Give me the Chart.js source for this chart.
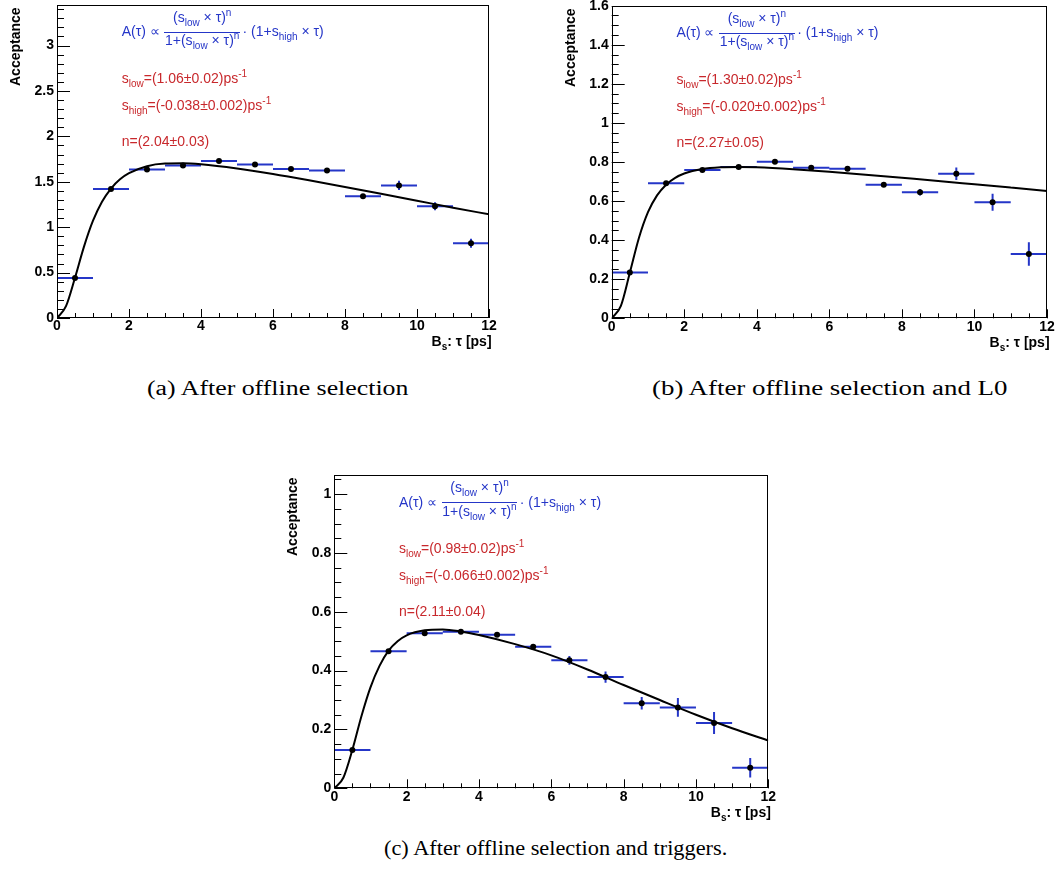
<!DOCTYPE html>
<html><head><meta charset="utf-8">
<script src="https://cdn.jsdelivr.net/npm/chart.js@4.4.0/dist/chart.umd.min.js"></script>
<style>
html,body{margin:0;padding:0;background:#fff;}
#page{position:relative;width:1055px;height:876px;overflow:hidden;font-family:'Liberation Sans',Arial,Helvetica,sans-serif;}
.cv{position:absolute;}
.t{position:absolute;white-space:nowrap;line-height:1;font-size:14px;}
.blue{color:#2536c8;}
.red{color:#c8282c;}
.sub{font-size:10px;position:relative;top:4px;line-height:0;}
.sup{font-size:10px;position:relative;top:-6px;line-height:0;}
.bold{font-weight:bold;color:#000;}
.probe{display:inline-block;width:0;height:0;vertical-align:baseline;}
.cap{font-family:'Liberation Serif','Times New Roman',serif;font-size:20px;color:#000;transform-origin:0 0;}
.fbar{position:absolute;height:1px;background:#2536c8;}
</style>
</head><body>
<div id="page">
  <canvas id="ca" class="cv" width="510" height="352" style="left:0px;top:0px;"></canvas>
  <canvas id="cb" class="cv" width="500" height="352" style="left:555px;top:0px;"></canvas>
  <canvas id="cc" class="cv" width="510" height="352" style="left:278px;top:470px;"></canvas>
</div>
<script>
// ---------------- data ----------------
const binEdges = [0,1,2,3,4,5,6,7,8,9,10,11,12];

const accA = [0.44, 1.42, 1.635, 1.68, 1.73, 1.69, 1.64, 1.625, 1.34, 1.46, 1.23, 0.823];
const errA = [0.01, 0.01, 0.01, 0.01, 0.01, 0.01, 0.017, 0.017, 0.02, 0.05, 0.044, 0.05];

const accB = [0.235, 0.691, 0.759, 0.774, 0.801, 0.771, 0.766, 0.684, 0.645, 0.740, 0.594, 0.329];
const errB = [0.005, 0.005, 0.005, 0.005, 0.006, 0.006, 0.008, 0.01, 0.017, 0.032, 0.044, 0.06];

const accC = [0.130, 0.466, 0.527, 0.532, 0.522, 0.481, 0.435, 0.378, 0.289, 0.275, 0.222, 0.070];
const errC = [0.004, 0.004, 0.004, 0.004, 0.005, 0.006, 0.015, 0.019, 0.0215, 0.032, 0.037, 0.033];

const fitTau = [0, 0.25, 0.5, 0.75, 1, 1.25, 1.5, 1.75, 2, 2.5, 3, 3.5, 4, 5, 6, 7, 8, 9, 10, 11, 12];
const fitA = [0, 0.13, 0.443, 0.786, 1.071, 1.28, 1.426, 1.527, 1.595, 1.672, 1.70, 1.703, 1.692, 1.646, 1.585, 1.516, 1.443, 1.368, 1.292, 1.214, 1.142];
const fitB = [0, 0.062, 0.233, 0.411, 0.543, 0.629, 0.684, 0.719, 0.741, 0.764, 0.773, 0.775, 0.773, 0.763, 0.7495, 0.735, 0.719, 0.703, 0.686, 0.669, 0.652];
const fitC = [0, 0.036, 0.131, 0.245, 0.343, 0.416, 0.468, 0.5, 0.52, 0.537, 0.54, 0.533, 0.521, 0.49, 0.452, 0.404, 0.351, 0.3, 0.25, 0.204, 0.162];

const sLow  = ['1.06±0.02', '1.30±0.02', '0.98±0.02'];
const sHigh = ['-0.038±0.002', '-0.020±0.002', '-0.066±0.002'];
const nPow  = ['2.04±0.03', '2.27±0.05', '2.11±0.04'];
const captions = ['(a) After offline selection', '(b) After offline selection and L0', '(c) After offline selection and triggers.'];
const yTitle = 'Acceptance';
const xTitleHTML = 'B<span class="sub">s</span>: τ [ps]';

// ---------------- layout ----------------
const panels = [
  {id:'ca', cl:0,   ct:0,   cw:510, ch:352, L:57,    R:489,   T:4.7, B:318,   ymax:3.45,  ystep:0.5, yminor:0.1,  acc:accA, err:errA, fit:fitA, cap:{x:147,w:261,base:395}},
  {id:'cb', cl:555, ct:0,   cw:500, ch:352, L:611.7, R:1047,  T:5.7, B:318.3, ymax:1.6,   ystep:0.2, yminor:0.05, acc:accB, err:errB, fit:fitB, cap:{x:652,w:356,base:395}},
  {id:'cc', cl:278, ct:470, cw:510, ch:352, L:334.3, R:768.3, T:475, B:788.3, ymax:1.065, ystep:0.2, yminor:0.05, acc:accC, err:errC, fit:fitC, cap:{x:384,w:343,base:855}}
];

const FONT = "'Liberation Sans', Arial, Helvetica, sans-serif";
const BLUE = '#2536c8';
Chart.defaults.font.family = FONT;
Chart.defaults.font.size = 14;
Chart.defaults.font.weight = 'bold';
Chart.defaults.color = '#000';

const rootAxes = {
  id: 'rootAxes',
  afterDraw(chart, args, o) {
    const {ctx, chartArea: a, scales: {x, y}} = chart;
    ctx.save();
    ctx.strokeStyle = '#000';
    ctx.lineWidth = 1;
    ctx.beginPath();
    for (let i = 0; ; i++) {
      const v = x.min + i * o.xMinor;
      if (v > x.max + 1e-9) break;
      const major = Math.abs(v / o.xMajor - Math.round(v / o.xMajor)) < 1e-6;
      const px = Math.round(x.getPixelForValue(v)) + 0.5;
      ctx.moveTo(px, a.bottom);
      ctx.lineTo(px, a.bottom - (major ? 9 : 5));
    }
    for (let i = 0; ; i++) {
      const v = y.min + i * o.yMinor;
      if (v > y.max + 1e-9) break;
      const major = Math.abs(v / o.yMajor - Math.round(v / o.yMajor)) < 1e-6;
      const py = Math.round(y.getPixelForValue(v)) + 0.5;
      ctx.moveTo(a.left, py);
      ctx.lineTo(a.left + (major ? 13 : 7), py);
    }
    ctx.stroke();
    const l = Math.round(a.left) + 0.5, t = Math.round(a.top) + 0.5;
    const r = Math.round(a.right) - 0.5, b = Math.round(a.bottom) - 0.5;
    ctx.strokeRect(l, t, r - l, b - t);
    ctx.restore();
  }
};

function zeroPad(s) { s.paddingLeft = 0; s.paddingRight = 0; s.paddingTop = 0; s.paddingBottom = 0; }

function buildChart(p) {
  const centers = p.acc.map((v, i) => (binEdges[i] + binEdges[i + 1]) / 2);
  const bars = [];
  p.acc.forEach((v, i) => {
    bars.push({x: binEdges[i], y: v}, {x: binEdges[i + 1], y: v}, {x: centers[i], y: null});
  });
  p.acc.forEach((v, i) => {
    bars.push({x: centers[i], y: v - p.err[i]}, {x: centers[i], y: v + p.err[i]}, {x: centers[i], y: null});
  });
  const pts = p.acc.map((v, i) => ({x: centers[i], y: v}));
  const curve = fitTau.map((t, i) => ({x: t, y: p.fit[i]}));
  const xH = p.ch - (p.B - p.ct);
  const yW = p.L - p.cl;
  const tickFont = {family: FONT, size: 14, weight: 'bold'};
  new Chart(document.getElementById(p.id), {
    type: 'scatter',
    data: {
      datasets: [
        {data: pts, showLine: false, pointRadius: 3, pointBackgroundColor: '#000', pointBorderWidth: 0, order: 0},
        {data: curve, showLine: true, borderColor: '#000', borderWidth: 2, pointRadius: 0, cubicInterpolationMode: 'monotone', fill: false, order: 1},
        {data: bars, showLine: true, spanGaps: false, borderColor: BLUE, borderWidth: 2, pointRadius: 0, borderCapStyle: 'butt', fill: false, order: 2}
      ]
    },
    options: {
      responsive: false, animation: false, devicePixelRatio: 1,
      events: [],
      font: tickFont,
      layout: {padding: {left: 0, top: p.T - p.ct, right: p.cw - (p.R - p.cl), bottom: 0}},
      plugins: {legend: {display: false}, tooltip: {enabled: false}, rootAxes: {xMajor: 2, xMinor: 0.5, yMajor: p.ystep, yMinor: p.yminor}},
      scales: {
        x: {
          type: 'linear', min: 0, max: 12,
          grid: {display: false, drawTicks: false, tickLength: 0},
          border: {display: false},
          ticks: {stepSize: 2, includeBounds: false, autoSkip: false, maxRotation: 0, padding: 0, color: '#000',
                  font: tickFont, callback: v => String(Math.round(v * 100) / 100)},
          afterFit: s => { s.height = xH; zeroPad(s); }
        },
        y: {
          type: 'linear', min: 0, max: p.ymax,
          grid: {display: false, drawTicks: false, tickLength: 0},
          border: {display: false},
          ticks: {stepSize: p.ystep, includeBounds: false, autoSkip: false, padding: 3, color: '#000',
                  font: tickFont, callback: v => String(Math.round(v * 100) / 100)},
          afterFit: s => { s.width = yW; zeroPad(s); }
        }
      }
    },
    plugins: [rootAxes]
  });
}

const page = document.getElementById('page');
function place(html, cls, x, baseline, alignRight) {
  const d = document.createElement('div');
  d.className = 't ' + cls;
  d.innerHTML = html + '<span class="probe"></span>';
  page.appendChild(d);
  const off = d.querySelector('.probe').offsetTop;
  d.style.top = (baseline - off) + 'px';
  d.style.left = (alignRight ? x - d.offsetWidth : x) + 'px';
  return d;
}

panels.forEach((p, k) => {
  buildChart(p);
  const L = p.L, T = p.T;
  // formula
  place('A(τ) ∝', 'blue', L + 64.7, T + 31.6);
  place('(s<span class="sub">low</span> × τ)<span class="sup">n</span>', 'blue', L + 116, T + 17.3);
  const bar = document.createElement('div');
  bar.className = 'fbar';
  bar.style.left = (L + 107.3) + 'px'; bar.style.top = (T + 27.3) + 'px'; bar.style.width = '75.7px';
  page.appendChild(bar);
  place('1+(s<span class="sub">low</span> × τ)<span class="sup">n</span>', 'blue', L + 108, T + 40.5);
  place('· (1+s<span class="sub">high</span> × τ)', 'blue', L + 185.5, T + 31.6);
  // parameters
  place('s<span class="sub">low</span>=(' + sLow[k] + ')ps<span class="sup">-1</span>', 'red', L + 64.7, T + 78.3);
  place('s<span class="sub">high</span>=(' + sHigh[k] + ')ps<span class="sup">-1</span>', 'red', L + 64.7, T + 105);
  place('n=(' + nPow[k] + ')', 'red', L + 64.7, T + 141);
  // axis titles
  place(xTitleHTML, 'bold', p.R + 2.5, p.B + 28.3, true);
  const yt = document.createElement('div');
  yt.className = 't bold';
  yt.textContent = yTitle;
  page.appendChild(yt);
  const w = yt.offsetWidth, h = yt.offsetHeight;
  yt.style.transformOrigin = '0 0';
  yt.style.transform = 'rotate(-90deg)';
  yt.style.left = (L - 42 - h / 2) + 'px';
  yt.style.top = (T + 2.3 + w) + 'px';
  // caption
  const c = place(captions[k], 'cap', p.cap.x, p.cap.base);
  const cw = c.offsetWidth;
  c.style.transform = 'scaleX(' + (p.cap.w / cw) + ')';
});
</script>
</body></html>
